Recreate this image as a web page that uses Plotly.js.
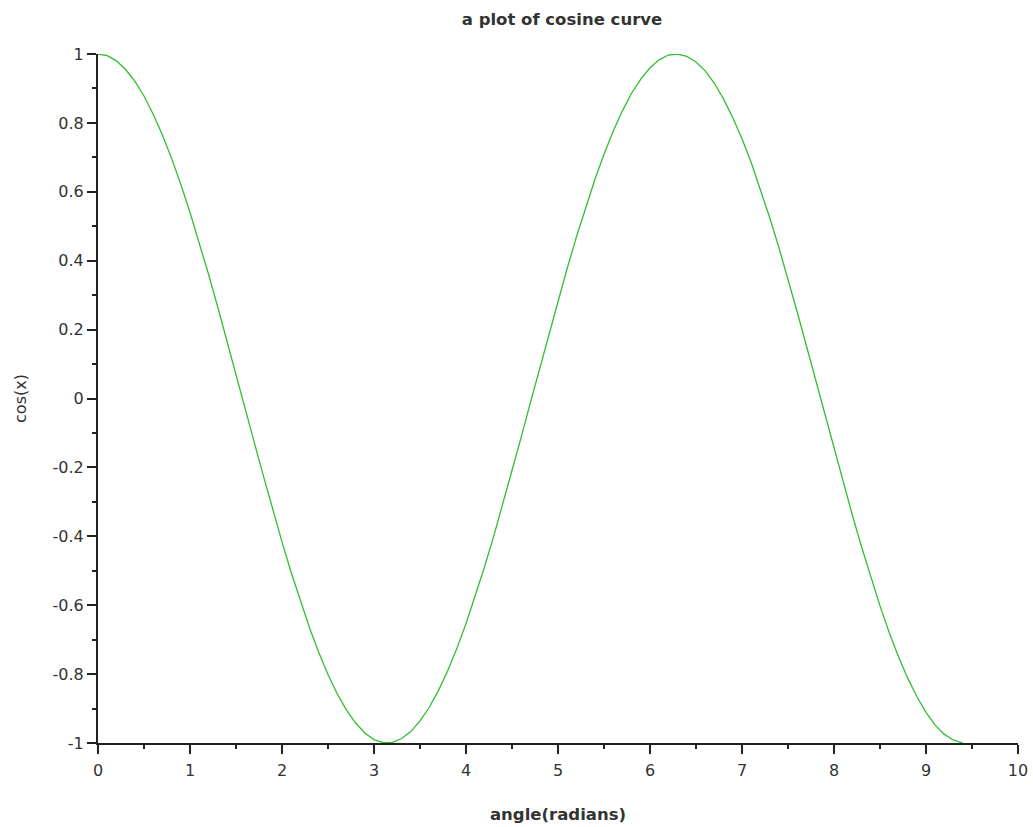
<!DOCTYPE html>
<html>
<head>
<meta charset="utf-8">
<script src="https://cdn.plot.ly/plotly-3.0.1.min.js"></script>
<style>
  html, body { margin: 0; padding: 0; background: #ffffff; }
  #chart { width: 1033px; height: 827px; }
</style>
</head>
<body>
<div id="chart"></div>
<script>
// Sampled angles (radians) and the cosine values plotted against them
const angle = [
  0.0, 0.1, 0.2, 0.3, 0.4, 0.5, 0.6, 0.7, 0.8, 0.9,
  1.0, 1.1, 1.2, 1.3, 1.4, 1.5, 1.6, 1.7, 1.8, 1.9,
  2.0, 2.1, 2.2, 2.3, 2.4, 2.5, 2.6, 2.7, 2.8, 2.9,
  3.0, 3.1, 3.2, 3.3, 3.4, 3.5, 3.6, 3.7, 3.8, 3.9,
  4.0, 4.1, 4.2, 4.3, 4.4, 4.5, 4.6, 4.7, 4.8, 4.9,
  5.0, 5.1, 5.2, 5.3, 5.4, 5.5, 5.6, 5.7, 5.8, 5.9,
  6.0, 6.1, 6.2, 6.3, 6.4, 6.5, 6.6, 6.7, 6.8, 6.9,
  7.0, 7.1, 7.2, 7.3, 7.4, 7.5, 7.6, 7.7, 7.8, 7.9,
  8.0, 8.1, 8.2, 8.3, 8.4, 8.5, 8.6, 8.7, 8.8, 8.9,
  9.0, 9.1, 9.2, 9.3, 9.4
];
const cosValue = [
  1.000, 0.995, 0.980, 0.955, 0.921, 0.878, 0.825, 0.765, 0.697, 0.622,
  0.540, 0.454, 0.362, 0.267, 0.170, 0.071, -0.029, -0.129, -0.227, -0.323,
  -0.416, -0.505, -0.589, -0.666, -0.737, -0.801, -0.857, -0.904, -0.942, -0.971,
  -0.990, -0.999, -0.998, -0.987, -0.967, -0.936, -0.897, -0.848, -0.791, -0.726,
  -0.654, -0.575, -0.490, -0.401, -0.307, -0.211, -0.112, -0.012, 0.087, 0.187,
  0.284, 0.378, 0.469, 0.554, 0.635, 0.709, 0.776, 0.835, 0.886, 0.927,
  0.960, 0.983, 0.997, 1.000, 0.993, 0.977, 0.951, 0.915, 0.869, 0.815,
  0.754, 0.685, 0.608, 0.526, 0.439, 0.347, 0.251, 0.153, 0.054, -0.046,
  -0.146, -0.244, -0.339, -0.431, -0.519, -0.602, -0.679, -0.749, -0.811, -0.865,
  -0.911, -0.948, -0.975, -0.992, -1.000
];

// Axis tick positions and their labels
const xTicks = [0, 1, 2, 3, 4, 5, 6, 7, 8, 9, 10];
const xTickText = ["0", "1", "2", "3", "4", "5", "6", "7", "8", "9", "10"];
const yTicks = [-1, -0.8, -0.6, -0.4, -0.2, 0, 0.2, 0.4, 0.6, 0.8, 1];
const yTickText = ["-1", "-0.8", "-0.6", "-0.4", "-0.2", "0", "0.2", "0.4", "0.6", "0.8", "1"];

const FONT = "DejaVu Sans, Verdana, sans-serif";
const AXIS_COLOR = "#222222";
const TEXT_COLOR = "#333333";

const trace = {
  x: angle,
  y: cosValue,
  type: "scatter",
  mode: "lines",
  line: { color: "#2fbf2f", width: 1.3 },
  hoverinfo: "x+y"
};

const layout = {
  width: 1033,
  height: 827,
  paper_bgcolor: "#ffffff",
  plot_bgcolor: "#ffffff",
  showlegend: false,
  margin: { l: 98, r: 15, t: 54, b: 84 },
  title: {
    text: "a plot of cosine curve",
    font: { family: FONT, size: 16.5, color: TEXT_COLOR, weight: "bold" },
    x: 562 / 1033,
    xref: "container",
    xanchor: "center",
    y: 1 - 19 / 827,
    yref: "container",
    yanchor: "middle"
  },
  xaxis: {
    range: [0, 10],
    tickvals: xTicks,
    ticktext: xTickText,
    showgrid: false,
    zeroline: false,
    showline: true,
    linecolor: AXIS_COLOR,
    linewidth: 2,
    ticks: "outside",
    ticklen: 9,
    tickwidth: 2,
    tickcolor: AXIS_COLOR,
    ticklabelstandoff: 3,
    minor: { dtick: 0.5, ticks: "outside", ticklen: 4, tickwidth: 2, tickcolor: AXIS_COLOR, showgrid: false },
    tickfont: { family: FONT, size: 16, color: TEXT_COLOR },
    title: {
      text: "angle(radians)",
      font: { family: FONT, size: 16.5, color: TEXT_COLOR, weight: "bold" },
      standoff: 29
    },
    fixedrange: true
  },
  yaxis: {
    range: [-1, 1],
    tickvals: yTicks,
    ticktext: yTickText,
    showgrid: false,
    zeroline: false,
    showline: true,
    linecolor: AXIS_COLOR,
    linewidth: 2,
    ticks: "outside",
    ticklen: 9,
    tickwidth: 2,
    tickcolor: AXIS_COLOR,
    minor: { dtick: 0.1, ticks: "outside", ticklen: 4, tickwidth: 2, tickcolor: AXIS_COLOR, showgrid: false },
    tickfont: { family: FONT, size: 16, color: TEXT_COLOR },
    title: {
      text: "cos(x)",
      font: { family: FONT, size: 16, color: TEXT_COLOR },
      standoff: 22
    },
    fixedrange: true
  }
};

Plotly.newPlot("chart", [trace], layout, { displayModeBar: false });
</script>
</body>
</html>
